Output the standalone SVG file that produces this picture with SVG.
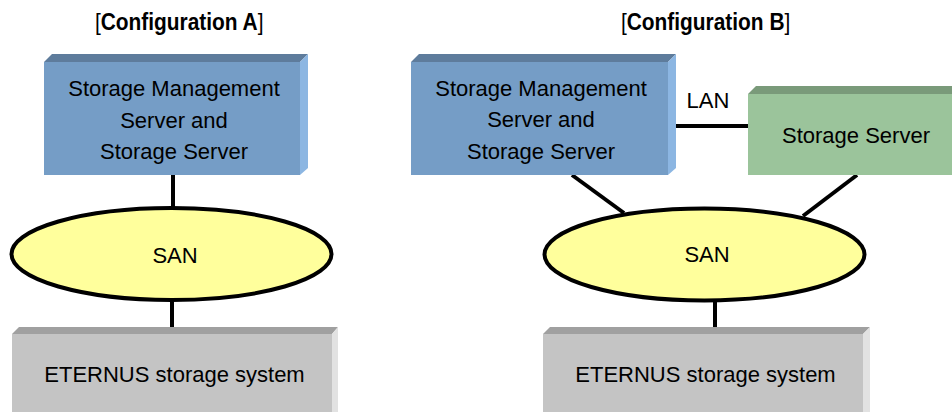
<svg xmlns="http://www.w3.org/2000/svg" width="952" height="412" viewBox="0 0 952 412">
<style>
text{font-family:"Liberation Sans",Arial,sans-serif;font-size:22px;fill:#000;text-anchor:middle}
.title{text-anchor:start;font-size:24px}
.title .w{font-weight:bold}
.bf{fill:#759dc6}.bt{fill:#5e7c9c}.bs{fill:#8cb6e2}
.gf{fill:#9bc49b}.gt{fill:#7a9a7a}
.sf{fill:#c4c4c4}.st{fill:#a0a0a0}.ss{fill:#e2e2e2}
.san{fill:#ffff9c;stroke:#000;stroke-width:4}
.conn line{stroke:#000;stroke-width:4}
</style>
<rect width="952" height="412" fill="#fff"/>

<g id="titleA">
<text class="title" transform="matrix(0.87 0 0 1 95 30)">[<tspan class="w">Configuration A</tspan>]</text>
</g>
<g id="titleB">
<text class="title" transform="matrix(0.87 0 0 1 621 30)">[<tspan class="w">Configuration B</tspan>]</text>
</g>

<g class="conn" id="connectors">
<line x1="173" y1="175" x2="173" y2="208"/>
<line x1="172" y1="300" x2="172" y2="334"/>
<line x1="668" y1="126" x2="748" y2="126"/>
<line x1="572" y1="175" x2="624" y2="213"/>
<line x1="857" y1="175" x2="803" y2="216"/>
<line x1="715" y1="300" x2="715" y2="334"/>
</g>

<g id="smsA">
<polygon class="bt" points="44,62 52,54 308,54 300,62"/>
<polygon class="bs" points="300,62 308,54 308,168 300,175"/>
<rect class="bf" x="44" y="62" width="256" height="113"/>
<text x="174" y="96">Storage Management</text>
<text x="174" y="128">Server and</text>
<text x="174" y="159">Storage Server</text>
</g>

<g id="sanA">
<ellipse class="san" cx="171.5" cy="254" rx="160" ry="46"/>
<text x="175" y="263">SAN</text>
</g>

<g id="eternusA">
<polygon class="st" points="12,334 19,327 338,327 332,334"/>
<polygon class="ss" points="332,334 338,327 338,412 332,412"/>
<rect class="sf" x="12" y="334" width="320" height="78"/>
<text x="174.5" y="382">ETERNUS storage system</text>
</g>

<g id="smsB">
<polygon class="bt" points="411,62 419,54 676,54 668,62"/>
<polygon class="bs" points="668,62 676,54 676,168 668,175"/>
<rect class="bf" x="411" y="62" width="257" height="113"/>
<text x="541" y="96">Storage Management</text>
<text x="541" y="127">Server and</text>
<text x="541" y="159">Storage Server</text>
</g>

<g id="lanLabel">
<text x="708" y="108">LAN</text>
</g>

<g id="storageServer">
<polygon class="gt" points="748,94 756,86 960,86 960,94"/>
<rect class="gf" x="748" y="94" width="210" height="81"/>
<text x="856" y="143">Storage Server</text>
</g>

<g id="sanB">
<ellipse class="san" cx="704.5" cy="254.5" rx="160" ry="46"/>
<text x="707" y="262">SAN</text>
</g>

<g id="eternusB">
<polygon class="st" points="543,334 550,327 870,327 863,334"/>
<polygon class="ss" points="863,334 870,327 870,412 863,412"/>
<rect class="sf" x="543" y="334" width="320" height="78"/>
<text x="705.5" y="382">ETERNUS storage system</text>
</g>
</svg>
